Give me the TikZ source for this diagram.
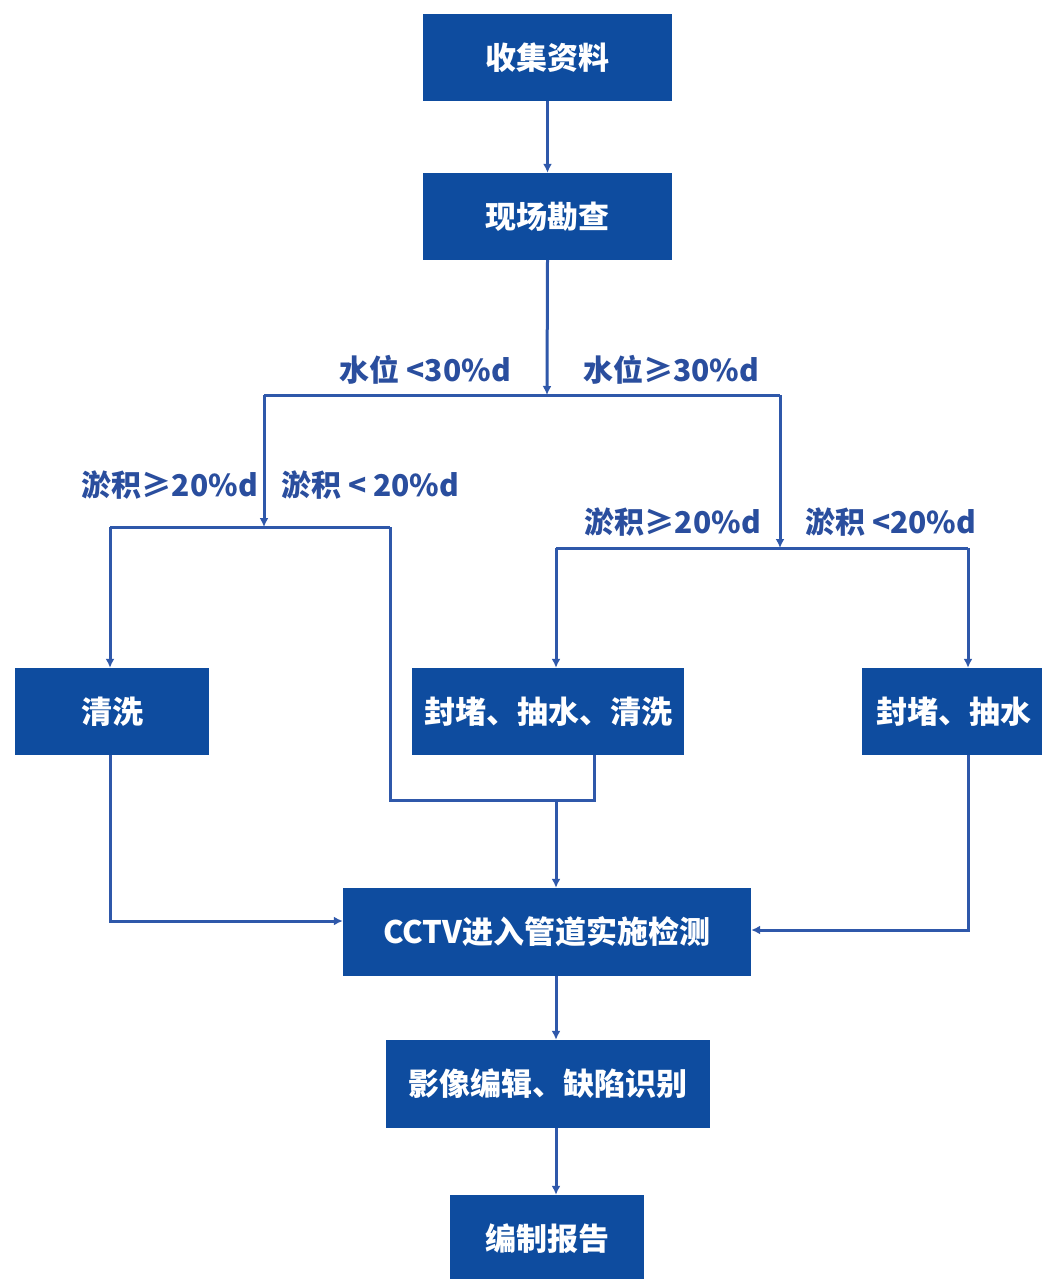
\documentclass[tikz,border=0pt]{standalone}
\usepackage{fontspec}
\setmainfont{Noto Sans CJK SC}
\usetikzlibrary{arrows.meta}
\definecolor{boxblue}{HTML}{0E4C9F}
\definecolor{lineblue}{HTML}{2F58AA}
\definecolor{textblue}{HTML}{2A4E9E}
\begin{document}
\begin{tikzpicture}[x=1pt,y=-1pt,
  box/.style={fill=boxblue,draw=none,text=white,inner sep=0pt,font=\fontsize{31}{34}\selectfont\bfseries},
  conn/.style={draw=lineblue,line width=3pt},
  arr/.style={conn,-{Latex[length=9pt,width=9pt]}},
  lbl/.style={text=textblue,inner sep=0pt,font=\fontsize{30}{33}\selectfont\bfseries}]
\useasboundingbox[fill=white] (0,0) rectangle (1041,1279);
% boxes
\node[box,minimum width=249pt,minimum height=87pt] (b1) at (547.5,57.5) {收集资料};
\node[box,minimum width=249pt,minimum height=87pt] (b2) at (547.5,216.5) {现场勘查};
\node[box,minimum width=194pt,minimum height=87pt] (b3) at (112,711.5) {清洗};
\node[box,minimum width=272pt,minimum height=87pt] (b4) at (548,711.5) {封堵、抽水、清洗};
\node[box,minimum width=184pt,minimum height=87pt] (b6) at (954,711.5) {封堵、抽水};
\node[box,minimum width=408pt,minimum height=88pt] (b5) at (547,932) {CCTV进入管道实施检测};
\node[box,minimum width=324pt,minimum height=88pt] (b7) at (548,1084) {影像编辑、缺陷识别};
\node[box,minimum width=194pt,minimum height=88pt] (b8) at (547,1239) {编制报告};
% labels
\node[lbl,anchor=east] (t1) at (511,370) {水位 <30\%d};
\node[lbl,anchor=west] (t2) at (583,370) {水位≥30\%d};
\node[lbl,anchor=east] (t3) at (258,485) {淤积≥20\%d};
\node[lbl,anchor=west] (t4) at (281,485) {淤积 < 20\%d};
\node[lbl,anchor=east] (t5) at (761,522) {淤积≥20\%d};
\node[lbl,anchor=west] (t6) at (805,522) {淤积 <20\%d};
% coordinates
\coordinate (s1) at (547,395);
\coordinate (L1) at (264,395);
\coordinate (R1) at (780,395);
\coordinate (L2) at (264,527);
\coordinate (L3) at (110,527);
\coordinate (L4) at (390,527);
\coordinate (R2) at (780,548);
\coordinate (R3) at (556,548);
\coordinate (R4) at (968,548);
\coordinate (m1) at (594,800);
\coordinate (m2) at (390,800);
\coordinate (m3) at (556,800);
\coordinate (c1) at (110,921);
\coordinate (c2) at (968,930);
% connectors
\draw[arr] (b1.south) -- (b2.north);
\draw[arr] (b2.south) -- (s1);
\draw[conn] (L1) -- (R1);
\draw[arr] (L1) -- (L2);
\draw[conn] (L3) -- (L4);
\draw[arr] (L3) -- (L3 |- b3.north);
\draw[conn] (b4.south -| m1) -- (m1) -- (m2) -- (L4);
\draw[arr] (m3) -- (m3 |- b5.north);
\draw[arr] (R1) -- (R2);
\draw[conn] (R3) -- (R4);
\draw[arr] (R3) -- (R3 |- b4.north);
\draw[arr] (R4) -- (R4 |- b6.north);
\draw[arr] (b3.south -| c1) -- (c1) -- (c1 -| b5.west);
\draw[arr] (b6.south -| c2) -- (c2) -- (c2 -| b5.east);
\draw[arr] (b5.south -| m3) -- (b7.north -| m3);
\draw[arr] (b7.south -| m3) -- (b8.north -| m3);
\end{tikzpicture}
\end{document}
